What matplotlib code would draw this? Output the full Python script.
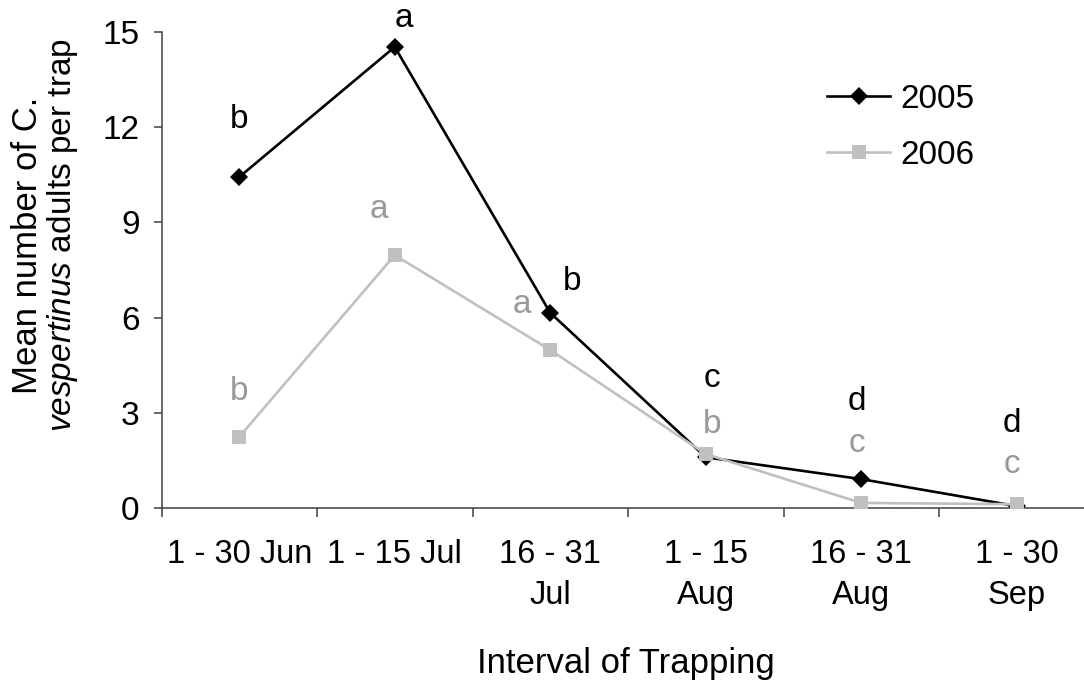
import matplotlib
matplotlib.use("Agg")
import matplotlib.pyplot as plt
from matplotlib.ticker import FixedLocator, NullFormatter, FixedFormatter

plt.rcParams['font.family'] = ['Liberation Sans', 'DejaVu Sans']
plt.rcParams['mathtext.fontset'] = 'custom'
plt.rcParams['mathtext.rm'] = 'Liberation Sans'
plt.rcParams['mathtext.it'] = 'Liberation Sans:italic'

# trapping intervals and mean catch per trap
intervals = ["1 - 30 Jun", "1 - 15 Jul", "16 - 31\nJul", "1 - 15\nAug", "16 - 31\nAug", "1 - 30\nSep"]
catch_2005 = [10.43, 14.53, 6.15, 1.60, 0.91, 0.06]
catch_2006 = [2.24, 7.97, 4.98, 1.70, 0.16, 0.12]

# mean separation letters, with where each one is written (x, y in data units)
letters_2005 = ["b", "a", "b", "c", "d", "d"]
letters_2006 = ["b", "a", "a", "b", "c", "c"]
letter_pos_2005 = [(0.0, 11.98), (1.06, 15.16), (2.14, 6.87), (3.04, 3.81), (3.97, 3.09), (4.97, 2.40)]
letter_pos_2006 = [(0.0, 3.40), (0.90, 9.14), (1.82, 6.15), (3.04, 2.36), (3.97, 1.76), (4.97, 1.10)]

y_ticks = [0, 3, 6, 9, 12, 15]

W, H = 1084, 685
fig = plt.figure(figsize=(W / 100, H / 100), dpi=100)
ax = fig.add_axes([161.5 / W, (H - 508) / H, 933 / W, 476 / H])

x = list(range(len(intervals)))
ax.plot(x, catch_2005, color='black', lw=1.9, marker='D', ms=9.5, mew=0,
        label='2005', zorder=3)
ax.plot(x, catch_2006, color='#c0c0c0', lw=1.9, marker='s', ms=10, mew=0,
        label='2006', zorder=4)

for txt, (lx, ly) in zip(letters_2005, letter_pos_2005):
    ax.text(lx, ly, txt, fontsize=24, color='black', ha='center', va='baseline')
for txt, (lx, ly) in zip(letters_2006, letter_pos_2006):
    ax.text(lx, ly, txt, fontsize=24, color='#999999', ha='center', va='baseline')

ax.set_xlim(-0.5, len(intervals) - 0.5)
ax.set_ylim(0, 15)

for side in ['top', 'right']:
    ax.spines[side].set_visible(False)
for side in ['left', 'bottom']:
    ax.spines[side].set_color('#404040')
    ax.spines[side].set_linewidth(1.1)

ax.set_yticks(y_ticks)
ax.tick_params(axis='y', direction='out', length=5.8, width=1.1, color='#404040',
               pad=10, labelsize=24)

# boundaries between intervals get the tick marks, the labels sit in between
ax.xaxis.set_major_locator(FixedLocator([i - 0.5 for i in x]))
ax.xaxis.set_major_formatter(NullFormatter())
ax.xaxis.set_minor_locator(FixedLocator(x))
ax.xaxis.set_minor_formatter(FixedFormatter(intervals))
ax.tick_params(axis='x', which='major', direction='out', length=6.5, width=1.1,
               color='#404040')
ax.tick_params(axis='x', which='minor', length=0, pad=22, labelsize=23.5)
for lbl in ax.xaxis.get_minorticklabels():
    lbl.set_linespacing(1.45)

fig.text(626 / W, 1 - 673 / H, "Interval of Trapping", fontsize=25,
         ha='center', va='baseline')
fig.text(37 / W, 1 - 245 / H, "Mean number of C.", fontsize=25, rotation=90,
         rotation_mode='anchor', ha='center', va='baseline')
fig.text(71 / W, 1 - 235 / H, r"$\mathit{vespertinus}$ adults per trap", fontsize=24,
         rotation=90, rotation_mode='anchor', ha='center', va='baseline')

ax.legend(loc='upper left', bbox_to_anchor=(827 / W, 1 - 84 / H),
          bbox_transform=fig.transFigure, frameon=False, fontsize=24,
          handlelength=1.9, handletextpad=0.3, labelspacing=0.75,
          borderpad=0, borderaxespad=0)

fig.savefig("out.png", dpi=100)
